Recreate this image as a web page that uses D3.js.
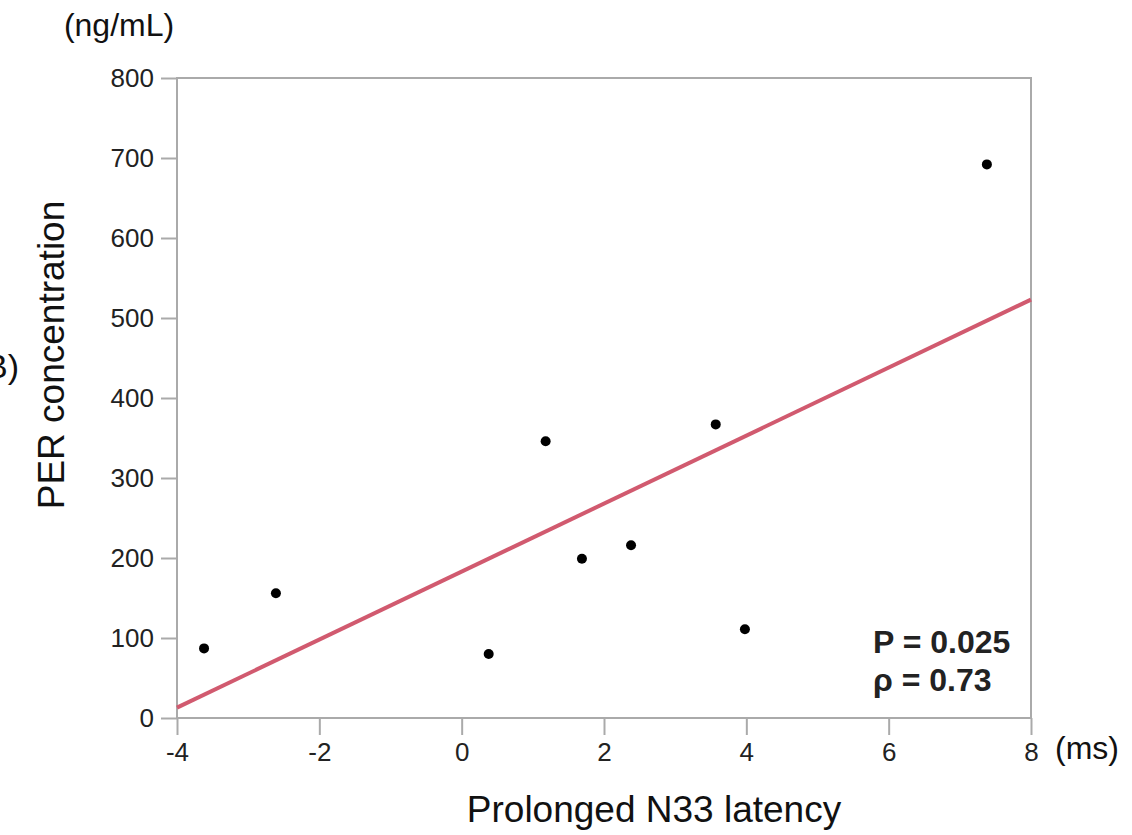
<!DOCTYPE html>
<html>
<head>
<meta charset="utf-8">
<script src="https://cdn.jsdelivr.net/npm/d3@7"></script>
<style>
  body { margin: 0; background: #fff; }
  text { font-family: "Liberation Sans", Arial, sans-serif; }
</style>
</head>
<body>
<svg id="chart" width="1132" height="835"></svg>
<script>
// data
var latency = [-3.62, -2.61, 0.38, 1.18, 1.69, 2.38, 3.57, 3.98, 7.38];
var perConc = [87, 156, 80, 346, 199, 216, 367, 111, 692];
var fitLine = [[-4, 13], [8, 523]];
var xTicks = [-4, -2, 0, 2, 4, 6, 8];
var yTicks = [0, 100, 200, 300, 400, 500, 600, 700, 800];
var stats = ["P = 0.025", "\u03c1 = 0.73"];

var svg = d3.select("svg#chart");
var plotL = 177, plotR = 1031, plotT = 78, plotB = 718;

var x = d3.scaleLinear().domain([-4, 8]).range([plotL, plotR]);
var y = d3.scaleLinear().domain([0, 800]).range([plotB, plotT]);

var axisColor = "#aaaaaa";

// frame
svg.append("rect")
   .attr("x", plotL).attr("y", plotT)
   .attr("width", plotR - plotL).attr("height", plotB - plotT)
   .attr("fill", "none")
   .attr("stroke", axisColor)
   .attr("stroke-width", 2);

// x axis
var gx = svg.append("g")
   .attr("transform", "translate(0," + plotB + ")")
   .call(d3.axisBottom(x).tickValues(xTicks).tickSize(17).tickPadding(8));
gx.select(".domain").remove();
gx.selectAll("line").attr("stroke", axisColor).attr("stroke-width", 2);
gx.selectAll("text").attr("font-size", 26).attr("fill", "#222")
  .attr("font-family", "Liberation Sans, Arial, sans-serif")
  .text(function(d) { return d < 0 ? "-" + Math.abs(d) : d; });

// y axis
var gy = svg.append("g")
   .attr("transform", "translate(" + plotL + ",0)")
   .call(d3.axisLeft(y).tickValues(yTicks).tickSize(16).tickPadding(7).tickFormat(d3.format("d")));
gy.select(".domain").remove();
gy.selectAll("line").attr("stroke", axisColor).attr("stroke-width", 2);
gy.selectAll("text").attr("font-size", 26).attr("fill", "#222")
  .attr("font-family", "Liberation Sans, Arial, sans-serif");

// regression line
svg.append("line")
   .attr("x1", x(fitLine[0][0])).attr("y1", y(fitLine[0][1]))
   .attr("x2", x(fitLine[1][0])).attr("y2", y(fitLine[1][1]))
   .attr("stroke", "#d15a6f")
   .attr("stroke-width", 4);

// points
svg.selectAll("circle.pt")
   .data(latency)
   .enter().append("circle")
   .attr("class", "pt")
   .attr("cx", function(d) { return x(d); })
   .attr("cy", function(d, i) { return y(perConc[i]); })
   .attr("r", 5)
   .attr("fill", "#000");

// stats
svg.selectAll("text.stat")
   .data(stats)
   .enter().append("text")
   .attr("class", "stat")
   .attr("x", 873)
   .attr("y", function(d, i) { return 653 + i * 38; })
   .attr("font-size", 32)
   .attr("font-weight", "bold")
   .attr("fill", "#222")
   .text(function(d) { return d; });

// units and labels
svg.append("text").attr("x", 119).attr("y", 36)
   .attr("text-anchor", "middle").attr("font-size", 32).attr("fill", "#111")
   .text("(ng/mL)");
svg.append("text").attr("x", 1055).attr("y", 759)
   .attr("font-size", 32).attr("fill", "#111")
   .text("(ms)");
svg.append("text").attr("x", 654).attr("y", 822)
   .attr("text-anchor", "middle").attr("font-size", 37).attr("fill", "#111")
   .text("Prolonged N33 latency");
svg.append("text")
   .attr("transform", "translate(64,355) rotate(-90)")
   .attr("text-anchor", "middle").attr("font-size", 37).attr("fill", "#111")
   .text("PER concentration");
svg.append("text").attr("x", 19).attr("y", 378)
   .attr("text-anchor", "end").attr("font-size", 34).attr("fill", "#111")
   .text("(B)");
</script>
</body>
</html>
